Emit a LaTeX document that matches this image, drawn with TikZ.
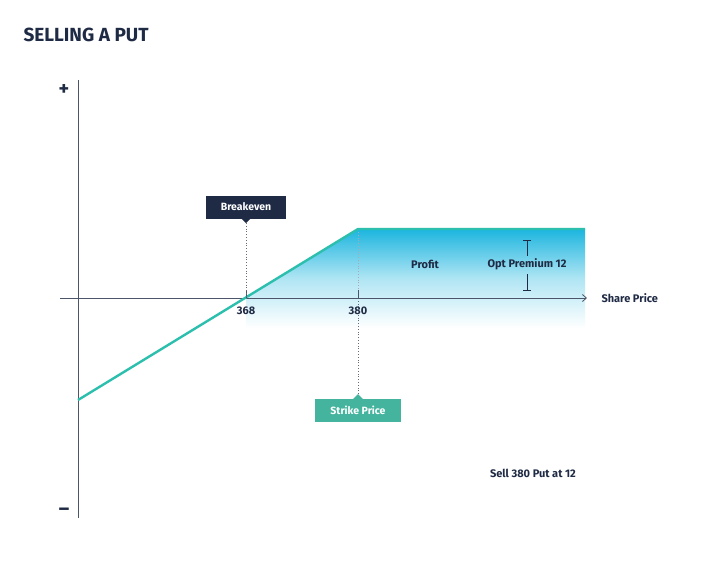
\documentclass[tikz,border=0pt]{standalone}
\usepackage{fontspec}
\setmainfont{Fira Sans}
\usetikzlibrary{arrows.meta,shapes.callouts}
\definecolor{navy}{HTML}{1F2A44}
\definecolor{tealc}{HTML}{2DBFAE}
\definecolor{boxteal}{HTML}{45B49F}
\definecolor{cyanf}{HTML}{1CB5DF}
\begin{document}
\begin{tikzpicture}[x=1pt,y=-1pt,
  lbl/.style={font=\fontsize{11}{13}\selectfont\bfseries,text=navy},
  axis/.style={draw=navy!80,line width=0.8pt},
  dot/.style={draw=navy!70,dotted,line width=0.8pt}]
\useasboundingbox (0,0) rectangle (720,574);
\fill[white] (0,0) rectangle (720,574);
\shade[top color=cyanf,bottom color=white,middle color=cyanf!35]
  (246,298) -- (358,229) -- (585,229) -- (585,328) -- (246,328) -- cycle;
\node[anchor=west,font=\fontsize{19}{22}\selectfont\bfseries,text=navy] (title) at (20,35) {SELLING A PUT};
\coordinate (ytop) at (78,80); \coordinate (ybot) at (78,518);
\coordinate (xl) at (60,298); \coordinate (xr) at (587,298);
\draw[axis] (ytop) -- (ybot);
\draw[axis,-{Straight Barb[length=4pt,width=7pt]}] (xl) -- (xr);
\node[lbl,font=\fontsize{20}{20}\selectfont\bfseries] (plus) at (64,90) {+};
\node[lbl,font=\fontsize{20}{20}\selectfont\bfseries] (minus) at (64,512) {\textendash};
\coordinate (a) at (78,400); \coordinate (be) at (246,298);
\coordinate (k) at (358,229); \coordinate (e) at (585,229);
\draw[tealc,line width=2.4pt] (a) -- (k) -- (e);
\draw[axis] (358,290) -- (358,298);
\draw[axis] (246,290) -- (246,298);
\node[lbl] (l368) at (246,311) {368};
\node[lbl] (l380) at (358,311) {380};
\node[fill=navy,text=white,font=\fontsize{10.5}{12}\selectfont\bfseries,minimum width=80pt,minimum height=23pt,inner sep=2pt] (bev) at (246,207) {Breakeven};
\fill[navy] (241,218) -- (251,218) -- (246,223) -- cycle;
\draw[dot] (246,223) -- (be);
\node[fill=boxteal,text=white,font=\fontsize{10.5}{12}\selectfont\bfseries,minimum width=86pt,minimum height=23pt,inner sep=2pt] (sp) at (358,410) {Strike Price};
\fill[boxteal] (353,399) -- (363,399) -- (358,394) -- cycle;
\draw[dot] (358,394) -- (358,300);
\draw[dot,navy!40] (358,232) -- (358,290);
\node[lbl] (profit) at (425,264) {Profit};
\node[lbl] (opt) at (527,264) {Opt Premium 12};
\draw[navy,line width=0.8pt] (523,240) -- (531,240) (527,240) -- (527,256);
\draw[navy,line width=0.8pt] (523,290) -- (531,290) (527,290) -- (527,274);
\node[lbl,anchor=west] (sh) at (598,298) {Share Price};
\node[lbl] (sell) at (533,473) {Sell 380 Put at 12};
\end{tikzpicture}
\end{document}
